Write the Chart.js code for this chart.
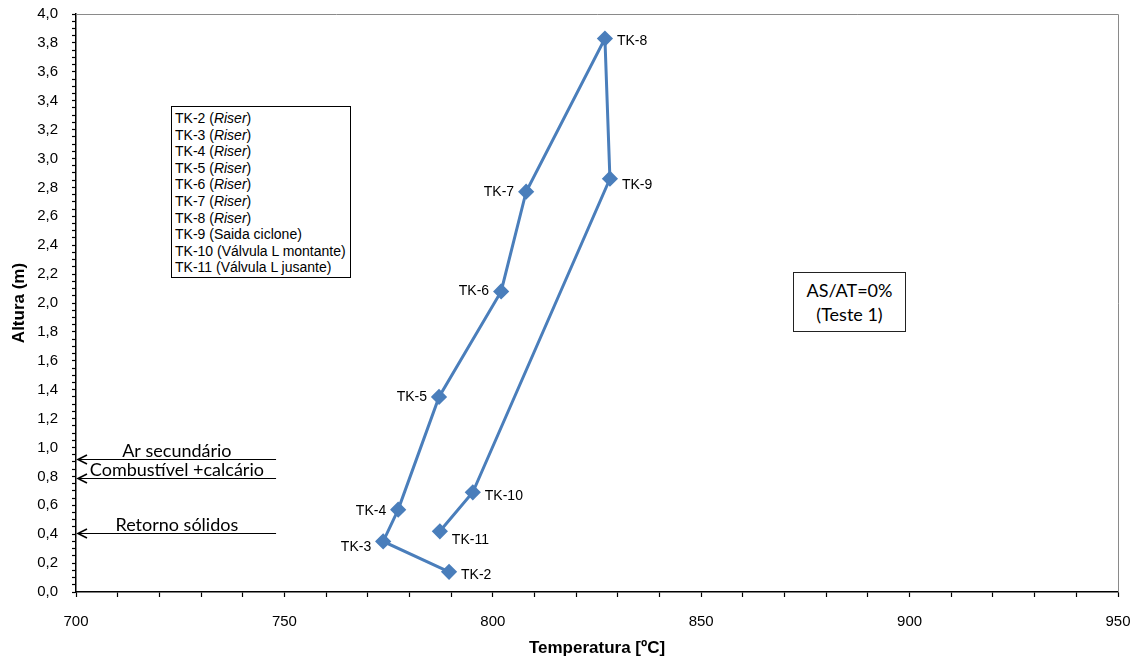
<!DOCTYPE html>
<html><head><meta charset="utf-8">
<script src="https://cdn.jsdelivr.net/npm/chart.js@4/dist/chart.umd.min.js"></script>
<style>
html,body{margin:0;padding:0;background:#fff;}
#wrap{position:relative;width:1142px;height:664px;overflow:hidden;}
#c{position:absolute;left:0;top:0;}
#legend{position:absolute;left:171px;top:106px;width:180px;height:172px;border:1px solid #000;box-sizing:border-box;background:#fff;
  font:14px "Liberation Sans",Arial,sans-serif;color:#000;line-height:16.6px;padding:3px 0 0 3px;letter-spacing:0;white-space:nowrap;}
#note{position:absolute;left:793px;top:272px;width:113px;height:60px;border:1px solid #222;box-sizing:border-box;background:#fff;
  font:18px Lato,"Open Sans",sans-serif;color:#000;text-align:center;line-height:24px;padding-top:5px;}
</style></head>
<body><div id="wrap"><canvas id="c" width="1142" height="664"></canvas>
<div id="legend"></div><div id="note">AS/AT=0%<br>(Teste 1)</div></div>
<script>
// ---- data ----
const pointNames = ['TK-2','TK-3','TK-4','TK-5','TK-6','TK-7','TK-8','TK-9','TK-10','TK-11'];
const temperatures = [789.5, 773.7, 777.3, 787.1, 802.0, 808.0, 826.9, 828.1, 795.2, 787.3];
const heights = [0.14, 0.35, 0.57, 1.35, 2.08, 2.77, 3.83, 2.86, 0.69, 0.42];
const legendNames = ['TK-2','TK-3','TK-4','TK-5','TK-6','TK-7','TK-8','TK-9','TK-10','TK-11'];
const legendDescs = ['Riser','Riser','Riser','Riser','Riser','Riser','Riser','Saida ciclone','Válvula L montante','Válvula L jusante'];
const legendItalic = [true,true,true,true,true,true,true,false,false,false];
const arrowLabels = ['Ar secundário','Combustível +calcário','Retorno sólidos'];
const arrowHeights = [0.92, 0.79, 0.41];
const arrowFrom = 748, arrowTo = 700, arrowTextAt = 724.2;
const xMin = 700, xMax = 950, xMajor = 50, xMinor = 10;
const yMin = 0, yMax = 4, yMajor = 0.2, yMinor = 0.05;

// legend
document.getElementById('legend').innerHTML = legendNames.map((n,i)=>
  n + ' (' + (legendItalic[i] ? '<i>'+legendDescs[i]+'</i>' : legendDescs[i]) + ')').join('<br>');

// label placement: side (+1 right / -1 left) and vertical offset
const labelSide = {'TK-2':[1,3],'TK-3':[-1,6],'TK-4':[-1,2],'TK-5':[-1,0],'TK-6':[-1,0],'TK-7':[-1,0],'TK-8':[1,3],'TK-9':[1,6],'TK-10':[1,4],'TK-11':[1,9]};

const extras = {
  id:'extras',
  afterDatasetsDraw(chart){
    const ctx = chart.ctx, xs = chart.scales.x, ys = chart.scales.y, a = chart.chartArea;
    ctx.save();
    // top/right frame
    ctx.strokeStyle = '#8a8a8a'; ctx.lineWidth = 1;
    ctx.beginPath();
    ctx.moveTo(a.left, a.top+0.5); ctx.lineTo(a.right+0.5, a.top+0.5); ctx.lineTo(a.right+0.5, a.bottom);
    ctx.stroke();
    // point labels
    ctx.font = '14px "Liberation Sans", Arial, sans-serif';
    ctx.fillStyle = '#000'; ctx.textBaseline = 'middle';
    pointNames.forEach((n,i)=>{
      const px = xs.getPixelForValue(temperatures[i]), py = ys.getPixelForValue(heights[i]);
      const s = labelSide[n];
      ctx.textAlign = s[0] > 0 ? 'left' : 'right';
      ctx.fillText(n, px + s[0]*12, py + s[1]);
    });
    // arrows
    ctx.strokeStyle = '#000'; ctx.lineWidth = 1;
    ctx.font = '18px Lato, "Open Sans", sans-serif';
    ctx.textAlign = 'center'; ctx.textBaseline = 'alphabetic';
    arrowLabels.forEach((t,i)=>{
      const y = Math.round(ys.getPixelForValue(arrowHeights[i])) + 0.5;
      const x1 = xs.getPixelForValue(arrowFrom), x0 = xs.getPixelForValue(arrowTo) + 2;
      ctx.lineWidth = 1;
      ctx.beginPath(); ctx.moveTo(x1, y); ctx.lineTo(x0, y); ctx.stroke();
      ctx.lineWidth = 1.6;
      ctx.beginPath(); ctx.moveTo(x0+9, y-4.5); ctx.lineTo(x0, y); ctx.lineTo(x0+9, y+4.5); ctx.stroke();
      ctx.fillText(t, xs.getPixelForValue(arrowTextAt), y - 3);
    });
    ctx.restore();
  }
};

const isMult = (v, m) => Math.abs(v/m - Math.round(v/m)) < 1e-6;

new Chart(document.getElementById('c'), {
  type:'scatter',
  data:{ datasets:[{
    data: temperatures.map((t,i)=>({x:t, y:heights[i]})),
    showLine:true, borderColor:'#4a7ebb', backgroundColor:'#4a7ebb', borderWidth:3,
    pointStyle:'rectRot', pointRadius:6, pointHoverRadius:6, tension:0
  }]},
  options:{
    responsive:false, animation:false, events:[],
    layout:{ padding:{ top:14, right:24, left:9, bottom:0 } },
    plugins:{ legend:{display:false}, tooltip:{enabled:false} },
    scales:{
      x:{ type:'linear', min:xMin, max:xMax,
        afterFit(s){ s.height = 72; s.paddingLeft = 0; s.paddingRight = 0; },
        ticks:{ stepSize:xMinor, maxTicksLimit:1000, autoSkip:false, maxRotation:0, padding:16, color:'#000',
          font:{family:'"Liberation Sans", Arial, sans-serif', size:15},
          callback:v => isMult(v,xMajor) ? String(v) : '' },
        grid:{ drawOnChartArea:false, drawTicks:true, tickLength:5, tickColor:'#000', tickWidth:1.2 },
        border:{ color:'#000', width:1.5 },
        title:{ display:true, text:'Temperatura [ºC]', color:'#000',
          font:{family:'"Liberation Sans", Arial, sans-serif', size:17, weight:'bold'}, padding:{top:2,bottom:5} }
      },
      y:{ type:'linear', min:yMin, max:yMax,
        afterFit(s){ s.width = 67; s.paddingTop = 0; s.paddingBottom = 0; },
        ticks:{ stepSize:yMinor, maxTicksLimit:1000, autoSkip:false, padding:14, color:'#000',
          font:{family:'"Liberation Sans", Arial, sans-serif', size:15},
          callback:v => isMult(v,yMajor) ? v.toFixed(1).replace('.',',') : '' },
        grid:{ drawOnChartArea:false, drawTicks:true, tickLength:4, tickColor:'#000', tickWidth:1.2 },
        border:{ color:'#000', width:1.5 },
        title:{ display:true, text:'Altura (m)', color:'#000',
          font:{family:'"Liberation Sans", Arial, sans-serif', size:17, weight:'bold'}, padding:{top:0,bottom:0} }
      }
    }
  },
  plugins:[extras]
});
</script></body></html>
